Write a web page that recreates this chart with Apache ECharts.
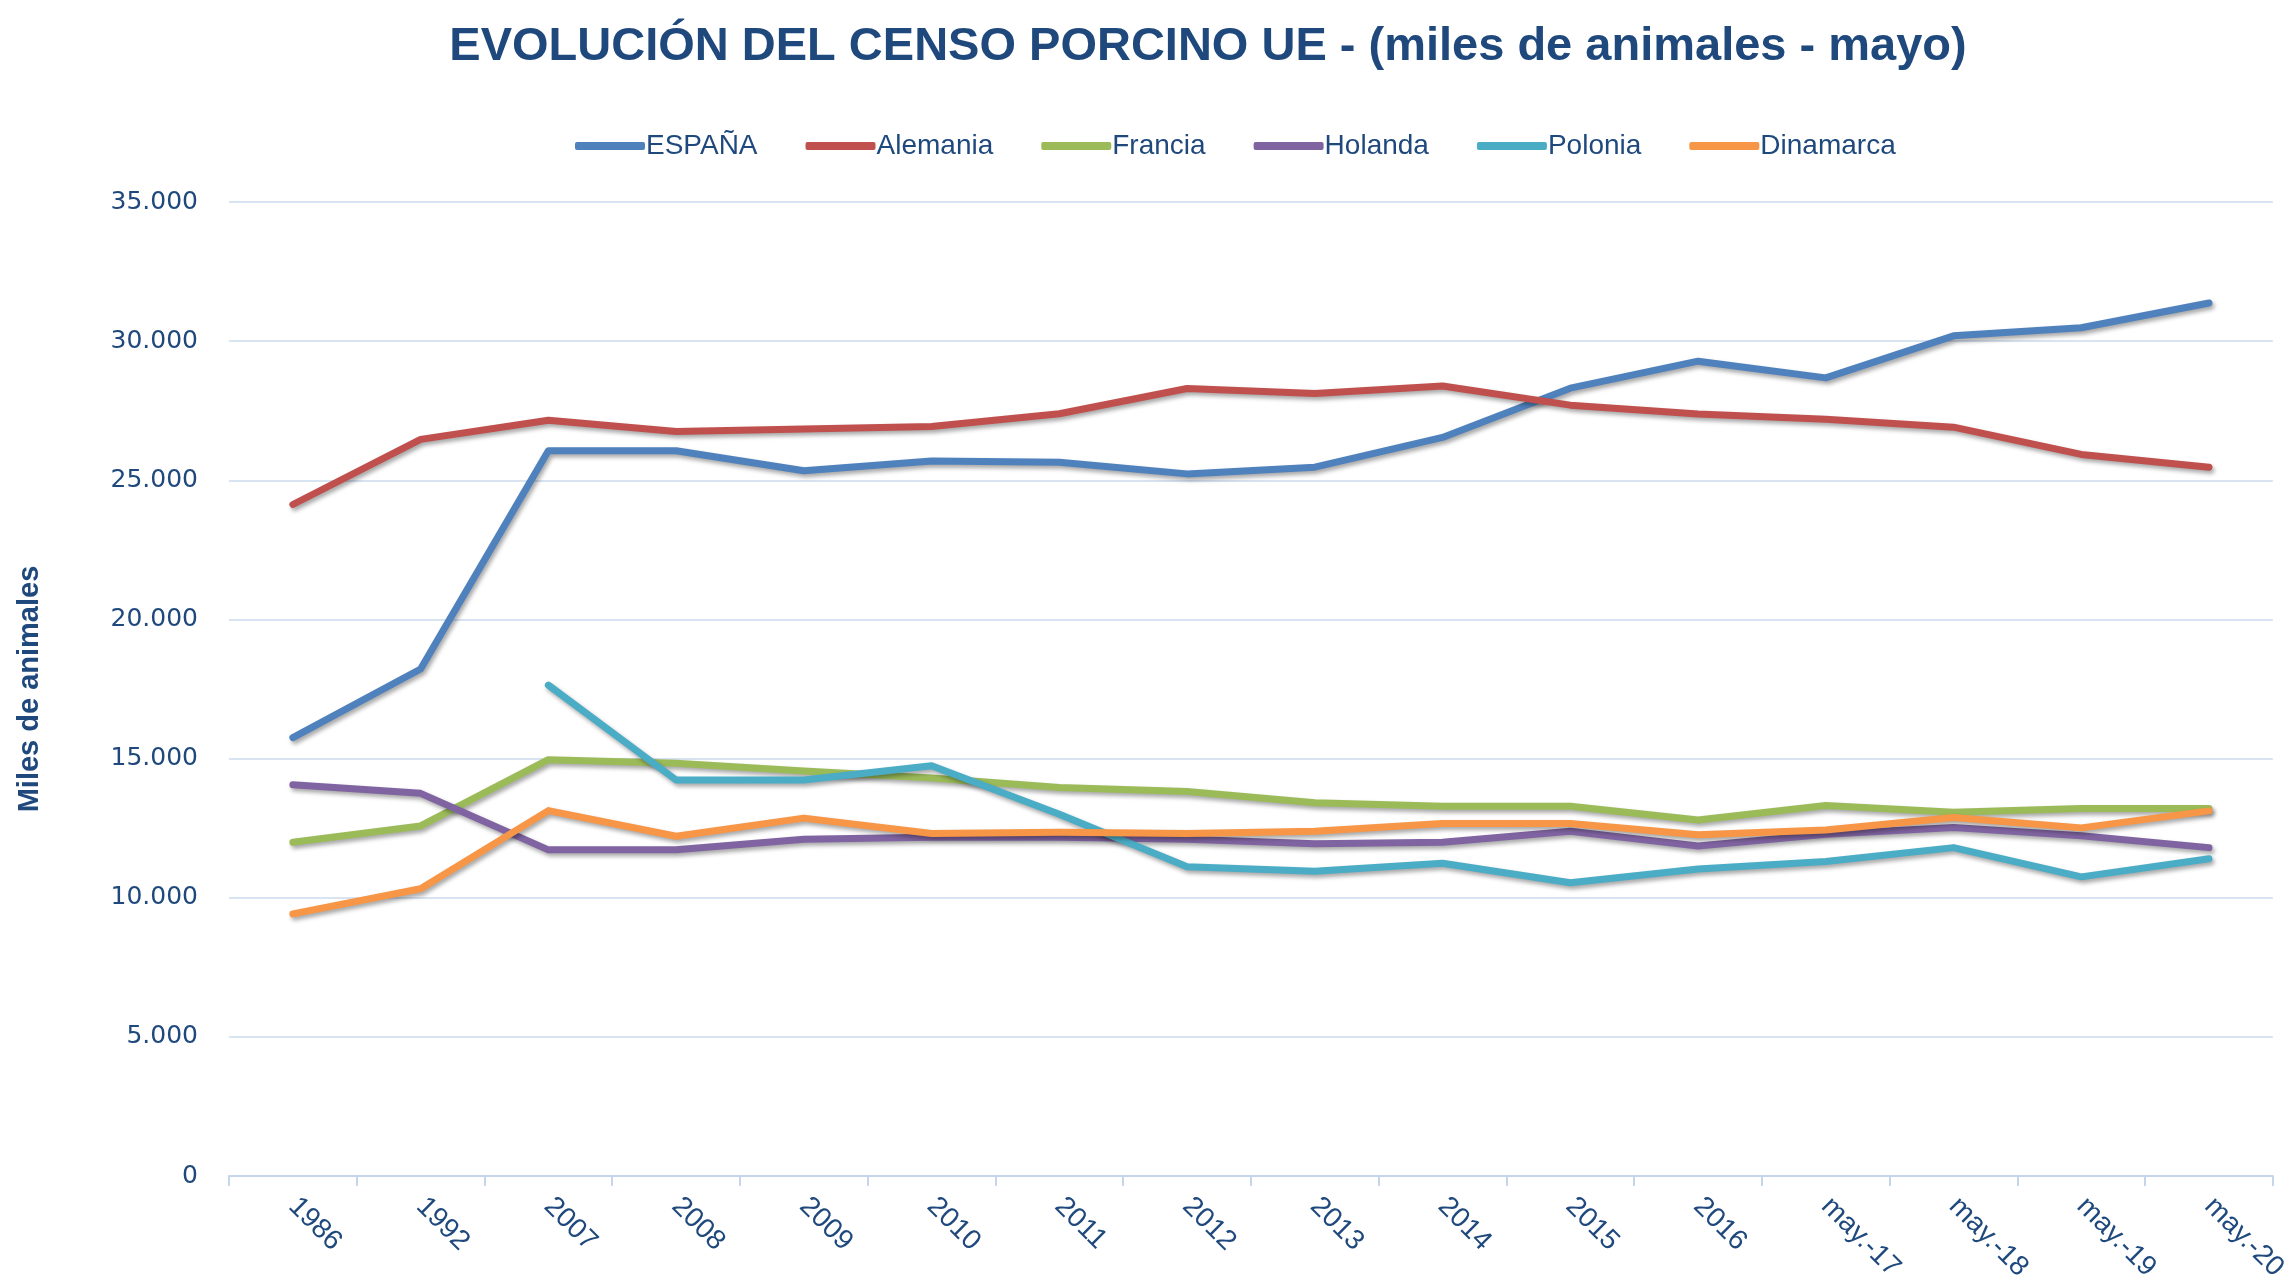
<!DOCTYPE html>
<html>
<head>
<meta charset="utf-8">
<script src="https://cdn.jsdelivr.net/npm/echarts@6/dist/echarts.min.js"></script>
<style>
  html, body { margin: 0; padding: 0; background: #fff; }
  #main { width: 2291px; height: 1286px; }
</style>
</head>
<body>
<div id="main"></div>
<script>
// categorias del eje x
const years = ['1986','1992','2007','2008','2009','2010','2011','2012','2013','2014','2015','2016','may.-17','may.-18','may.-19','may.-20'];

// censo en miles de animales
const espana    = [15750,18220,26060,26060,25340,25690,25650,25230,25470,26540,28310,29280,28680,30190,30480,31370];
const alemania  = [24130,26470,27160,26750,26840,26930,27390,28300,28120,28390,27700,27380,27190,26910,25930,25470];
const francia   = [11990,12580,14960,14830,14550,14300,13960,13820,13410,13290,13290,12790,13310,13070,13210,13210];
const holanda   = [14060,13750,11720,11720,12100,12170,12170,12100,11940,11990,12390,11860,12280,12520,12230,11800];
const polonia   = [null,null,17640,14230,14230,14740,13000,11110,10950,11240,10540,11030,11300,11800,10750,11400];
const dinamarca = [9420,10320,13130,12210,12860,12310,12350,12310,12390,12670,12670,12260,12430,12880,12510,13120];

const names  = ['ESPAÑA','Alemania','Francia','Holanda','Polonia','Dinamarca'];
const colors = ['#4F81BD','#C0504D','#9BBB59','#8064A2','#4BACC6','#F79646'];
const values = [espana, alemania, francia, holanda, polonia, dinamarca];

const txt = '#1F497D';

function miles(v) {
  return String(v).replace(/\B(?=(\d{3})+(?!\d))/g, '.');
}

var myChart = echarts.init(document.getElementById('main'));

var series = names.map(function (n, i) {
  return {
    name: n,
    type: 'line',
    data: values[i],
    symbol: 'none',
    connectNulls: false,
    lineStyle: {
      width: 7,
      color: colors[i],
      cap: 'round',
      join: 'round',
      shadowColor: 'rgba(0,0,0,0.35)',
      shadowBlur: 4,
      shadowOffsetX: 2,
      shadowOffsetY: 3
    },
    itemStyle: { color: colors[i] }
  };
});

var option = {
  animation: false,
  backgroundColor: '#fff',
  title: {
    text: 'EVOLUCIÓN DEL CENSO PORCINO UE - (miles de animales - mayo)',
    left: 1203,
    textAlign: 'center',
    top: 19,
    textStyle: {
      color: txt,
      fontFamily: "'Liberation Sans', Arial, sans-serif",
      fontWeight: 'bold',
      fontSize: 47
    }
  },
  legend: {
    top: 127,
    left: 570,
    itemWidth: 70,
    itemHeight: 8,
    itemGap: 48,
    icon: 'roundRect',
    data: names,
    textStyle: {
      color: txt,
      fontFamily: "'Liberation Sans', Arial, sans-serif",
      fontSize: 28,
      padding: [0, 0, 0, -4]
    }
  },
  grid: {
    left: 229,
    right: 16,
    top: 202,
    bottom: 110,
    containLabel: false
  },
  xAxis: {
    type: 'category',
    data: years,
    boundaryGap: true,
    axisLine: { lineStyle: { color: '#C5D5EA', width: 2 } },
    axisTick: { show: true, interval: 0, length: 10, lineStyle: { color: '#C5D5EA', width: 2 } },
    axisLabel: {
      interval: 0,
      rotate: -45,
      margin: 26,
      color: txt,
      fontFamily: "'Liberation Sans', Arial, sans-serif",
      fontSize: 28
    }
  },
  yAxis: {
    type: 'value',
    min: 0,
    max: 35000,
    interval: 5000,
    name: 'Miles de animales',
    nameLocation: 'middle',
    nameRotate: 90,
    nameGap: 185,
    nameTextStyle: {
      color: txt,
      fontFamily: "'Liberation Sans', Arial, sans-serif",
      fontWeight: 'bold',
      fontSize: 29
    },
    axisLine: { show: false },
    axisTick: { show: false },
    splitLine: { lineStyle: { color: '#D9E4F3', width: 2 } },
    axisLabel: {
      margin: 31,
      color: txt,
      fontFamily: "'DejaVu Sans', sans-serif",
      fontSize: 25,
      formatter: miles
    }
  },
  series: series
};

myChart.setOption(option);
</script>
</body>
</html>
